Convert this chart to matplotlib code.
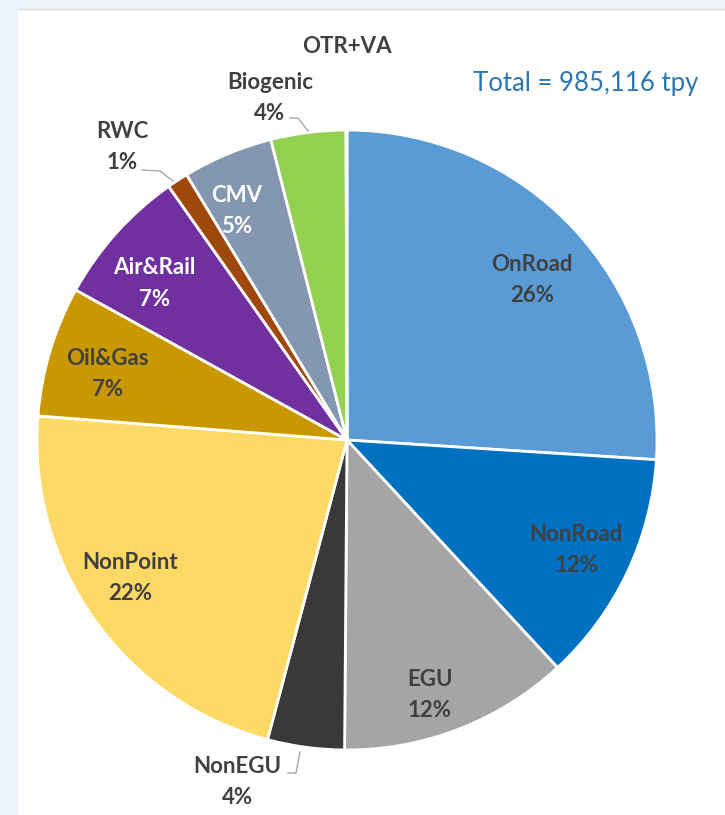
import matplotlib.pyplot as plt
import numpy as np
from matplotlib.patches import Rectangle

# emission shares (percent of total), clockwise from 12 o'clock
labels = ["OnRoad", "NonRoad", "EGU", "NonEGU", "NonPoint", "Oil&Gas",
          "Air&Rail", "RWC", "CMV", "Biogenic", "OTR+VA"]
shares = [26.0, 12.1, 12.0, 4.0, 22.1, 6.8, 7.2, 1.1, 4.7, 3.9, 0.05]
colors = ["#5B9BD5", "#0070C0", "#A5A5A5", "#3B3838", "#FFD966", "#C99800",
          "#7030A0", "#9E480E", "#8497B0", "#92D050", "#FF0000"]
total_tpy = 985116

W, H = 725, 815
CX, CY, R = 347, H - 440, 310
DARK = "#404040"
FONT = ["Lato", "DejaVu Sans"]

fig = plt.figure(figsize=(W / 100, H / 100), dpi=100)
ax = fig.add_axes([0, 0, 1, 1])

# page background strips
ax.add_patch(Rectangle((0, 0), 17, H, color="#EEF4FC", zorder=0))
ax.add_patch(Rectangle((0, H - 9), W, 9, color="#EEF4FC", zorder=0))
ax.plot([17, W], [H - 9, H - 9], color="#D9D9D9", lw=1, zorder=1)

wedges, _ = ax.pie(shares, colors=colors, startangle=90, counterclock=False,
                   center=(CX, CY), radius=R, frame=True,
                   wedgeprops=dict(edgecolor="white", linewidth=2))
ax.set_xlim(0, W)
ax.set_ylim(0, H)
ax.set_aspect("equal")
ax.axis("off")

# label placement: (clockwise angle from top in degrees, radius fraction)
label_pos = {
    "OnRoad": (49.1, 0.79), "NonRoad": (115.6, 0.82), "EGU": (162.0, 0.865),
    "NonEGU": (197.8, 1.16), "NonPoint": (237.5, 0.83), "Oil&Gas": (285.4, 0.80),
    "Air&Rail": (309.1, 0.80), "RWC": (322.5, 1.19), "CMV": (334.2, 0.82),
    "Biogenic": (347.3, 1.13), "OTR+VA": (0.0, 1.27),
}
white_text = {"Air&Rail", "CMV"}

for name, share in zip(labels, shares):
    ang, rf = label_pos[name]
    x = CX + rf * R * np.sin(np.radians(ang))
    y = CY + rf * R * np.cos(np.radians(ang))
    pct = round(share)
    txt = name if pct == 0 else f"{name}\n{pct:.0f}%"
    ax.text(x, y, txt, ha="center", va="center", fontsize=16, fontweight="bold",
            color="white" if name in white_text else DARK, family=FONT,
            linespacing=1.6, zorder=5)

# leader lines for outside labels
leaders = [
    [(290, 118), (298, 118), (308, 131)],
    [(142, 170), (160, 171), (173, 181)],
    [(288, 773), (296, 773), (300, 752)],
]
for pts in leaders:
    xs = [p[0] for p in pts]
    ys = [H - p[1] for p in pts]
    ax.plot(xs, ys, color="#A6A6A6", lw=1, zorder=4)

ax.text(586, H - 83, f"Total = {total_tpy:,} tpy", ha="center", va="center",
        fontsize=18.5, color="#2E75B6", family=FONT)

fig.savefig("out.png", dpi=100, facecolor="white")
